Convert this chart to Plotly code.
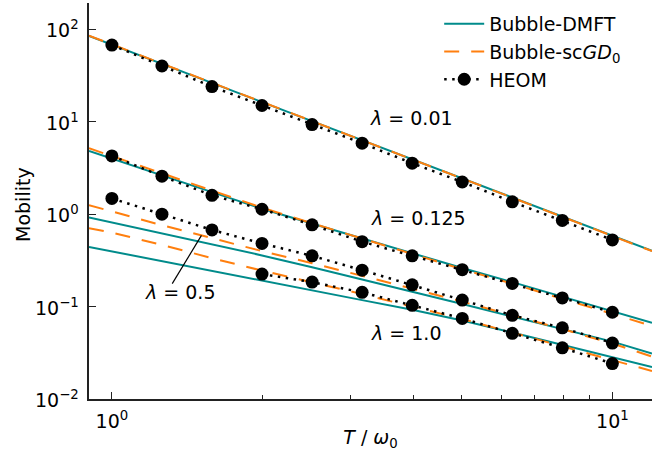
import math
import plotly.graph_objects as go

# ---------------- data ----------------
T_heom = [1.0, 1.259, 1.585, 1.995, 2.512, 3.162, 3.981, 5.012, 6.310, 7.943, 10.0]
heom_001 = [67.6, 40.1, 24.0, 15.0, 9.33, 5.86, 3.56, 2.23, 1.36, 0.855, 0.527]
heom_0125 = [4.27, 2.58, 1.60, 1.13, 0.766, 0.504, 0.354, 0.251, 0.178, 0.124, 0.0868]
heom_05 = [1.479, 1.00, 0.675, 0.482, 0.354, 0.248, 0.172, 0.1175, 0.0805, 0.0589, 0.0403]
T_heom_1 = [1.995, 2.512, 3.162, 3.981, 5.012, 6.310, 7.943, 10.0]
heom_1 = [0.2246, 0.184, 0.1425, 0.1031, 0.0745, 0.0514, 0.0358, 0.0242]

T_line = [0.9, 1.0, 1.259, 1.585, 1.995, 2.512, 3.162, 3.981, 5.012, 6.310, 7.943, 10.0, 12.0]
dmft_001 = [84.7, 68.1, 42.3, 26.3, 16.3, 10.2, 6.31, 3.93, 2.44, 1.52, 0.942, 0.585, 0.401]
gd0_001 = [85.5, 68.6, 42.5, 26.4, 16.35, 10.2, 6.30, 3.92, 2.43, 1.51, 0.936, 0.581, 0.398]
dmft_0125 = [4.83, 3.98, 2.61, 1.73, 1.146, 0.789, 0.543, 0.374, 0.261, 0.184, 0.128, 0.0883, 0.0667]
gd0_0125 = [5.17, 4.24, 2.74, 1.795, 1.175, 0.797, 0.542, 0.368, 0.2535, 0.177, 0.1217, 0.0828, 0.0618]
dmft_05 = [0.921, 0.813, 0.618, 0.470, 0.358, 0.267, 0.198, 0.145, 0.1064, 0.0780, 0.0571, 0.0418, 0.0310]
gd0_05 = [1.251, 1.064, 0.760, 0.550, 0.398, 0.295, 0.216, 0.1565, 0.1132, 0.0809, 0.0571, 0.0398, 0.0288]
dmft_1 = [0.442, 0.395, 0.309, 0.242, 0.190, 0.149, 0.1175, 0.0925, 0.0707, 0.0524, 0.0384, 0.0281, 0.0222]
gd0_1 = [0.706, 0.631, 0.465, 0.334, 0.245, 0.184, 0.1365, 0.1000, 0.0733, 0.0524, 0.0371, 0.0261, 0.0201]

labels = ["<i>λ</i> = 0.01", "<i>λ</i> = 0.125", "<i>λ</i> = 0.5", "<i>λ</i> = 1.0"]
label_pos = [(3.96, 10.9), (4.10, 0.90), (1.37, 0.144), (3.87, 0.0518)]
pointer = [(1.51, 0.589), (1.32, 0.177)]  # from near point to label

x_ticks = [1, 10]
x_ticktext = ["10<sup>0</sup>", "10<sup>1</sup>"]
y_ticks = [0.01, 0.1, 1, 10, 100]
y_ticktext = ["10<sup>−2</sup>", "10<sup>−1</sup>", "10<sup>0</sup>", "10<sup>1</sup>", "10<sup>2</sup>"]
x_minor = [2, 3, 4, 5, 6, 7, 8, 9]
y_minor = [m * 10 ** k for k in range(-2, 3) for m in range(2, 10)]

TEAL = "#008b8b"
ORANGE = "#ff7f0e"

fig = go.Figure()

groups = [
    (dmft_001, gd0_001, T_heom, heom_001),
    (dmft_0125, gd0_0125, T_heom, heom_0125),
    (dmft_05, gd0_05, T_heom, heom_05),
    (dmft_1, gd0_1, T_heom_1, heom_1),
]
for i, (d, g, th, h) in enumerate(groups):
    first = i == 0
    fig.add_trace(go.Scatter(x=T_line, y=d, mode="lines", name="Bubble-DMFT",
                             line=dict(color=TEAL, width=2), legendgroup="dmft",
                             showlegend=first))
    fig.add_trace(go.Scatter(x=T_line, y=g, mode="lines", name="Bubble-sc<i>GD</i><sub>0</sub>",
                             line=dict(color=ORANGE, width=2, dash="15px,12px"),
                             legendgroup="gd0", showlegend=first))
for i, (d, g, th, h) in enumerate(groups):
    fig.add_trace(go.Scatter(x=th, y=h, mode="lines+markers", name="HEOM",
                             line=dict(color="black", width=2.5, dash="2.5px,5.5px"),
                             marker=dict(color="black", size=13),
                             legendgroup="heom", showlegend=(i == 0)))

for txt, (lx, ly) in zip(labels, label_pos):
    fig.add_annotation(x=math.log10(lx), y=math.log10(ly), text=txt, showarrow=False,
                       font=dict(size=19, color="black"), xanchor="center", yanchor="middle")

# y tick labels, placed just left of the axis line
for v, t in zip(y_ticks, y_ticktext):
    fig.add_annotation(xref="paper", yref="y", x=0, y=math.log10(v), text=t,
                       showarrow=False, xanchor="right", yanchor="middle", xshift=-8,
                       font=dict(size=19, color="black"))

# y axis title
fig.add_annotation(xref="paper", yref="paper", x=0, y=0.49, text="Mobility",
                   textangle=-90, showarrow=False, xanchor="center", yanchor="middle",
                   xshift=-66, font=dict(size=19, color="black"))

fig.add_shape(type="line", xref="x", yref="y", x0=pointer[0][0], y0=pointer[0][1],
              x1=pointer[1][0], y1=pointer[1][1], line=dict(color="black", width=1.2))

axis_common = dict(type="log", showgrid=False, zeroline=False, showline=True,
                   linecolor="#222", linewidth=1.5, ticks="inside", ticklen=7,
                   tickwidth=1.2, tickcolor="#222", automargin=False,
                   tickfont=dict(size=19))
minor_x = dict(tickmode="array", tickvals=x_minor, ticks="inside",
               ticklen=4, tickwidth=1.2, tickcolor="#222")
minor_y = dict(tickmode="array", tickvals=y_minor, ticks="inside",
               ticklen=4, tickwidth=1.2, tickcolor="#222")
xr = [math.log10(0.9), math.log10(12)]
yr = [-2, 2.285]

fig.update_layout(
    width=668, height=456,
    margin=dict(l=89, r=16, t=3, b=57, autoexpand=False),
    plot_bgcolor="white", paper_bgcolor="white",
    font=dict(family="DejaVu Sans", size=18, color="black"),
    xaxis=dict(**axis_common, range=xr,
               tickmode="array", tickvals=x_ticks, ticktext=x_ticktext,
               mirror=False, minor=minor_x, ticklabelstandoff=4,
               title=dict(text="<i>T</i> / <i>ω</i><sub>0</sub>", font=dict(size=19), standoff=0)),
    xaxis2=dict(**axis_common, range=xr, overlaying="x", side="top", anchor="y",
                tickmode="array", tickvals=x_ticks, showticklabels=False, minor=minor_x),
    yaxis=dict(**axis_common, range=yr, tickmode="array", tickvals=y_ticks,
               showticklabels=False, mirror=False),
    yaxis2=dict(**axis_common, range=yr, overlaying="y", side="right", anchor="x",
                tickmode="array", tickvals=y_ticks, showticklabels=False, minor=minor_y),
    legend=dict(x=0.622, y=0.995, xanchor="left", yanchor="top", itemwidth=40,
                bgcolor="rgba(0,0,0,0)", font=dict(size=19), tracegroupgap=0),
    showlegend=True,
)

fig.write_html("out.html", config={"displayModeBar": False},
               post_script="document.body.style.margin='0';")
